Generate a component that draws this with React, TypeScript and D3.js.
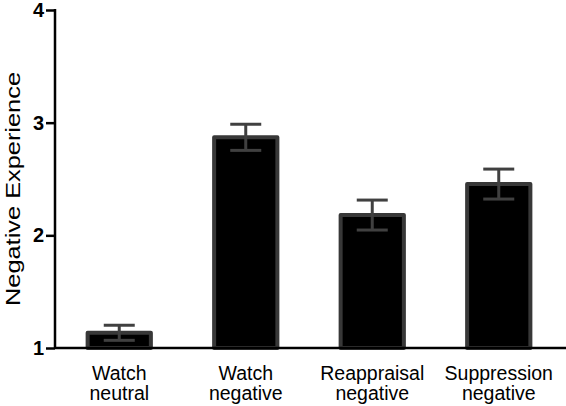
import { useEffect, useRef } from "react";
import * as d3 from "d3";

const categories = ["Watch\nneutral", "Watch\nnegative", "Reappraisal\nnegative", "Suppression\nnegative"];
const means = [1.135, 2.87, 2.18, 2.455];
const errors = [0.067, 0.116, 0.133, 0.133];
const yTicks = [1, 2, 3, 4];
const yLabel = "Negative Experience";

const NegativeExperienceChart = () => {
  const svgRef = useRef<SVGSVGElement>(null);

  useEffect(() => {
    const svg = d3.select(svgRef.current);
    svg.selectAll("*").remove(); // start clean

    const width = 566;
    const height = 406;
    const font = "'Liberation Sans', Arial, Helvetica, sans-serif";
    const axisX = 55;
    const axisColor = "#000";
    const barStroke = "#383838";

    svg.attr("width", width).attr("height", height);

    const x = d3
      .scaleBand()
      .domain(categories)
      .range([56, 562])
      .paddingInner(0.5)
      .paddingOuter(0.25);

    const y = d3.scaleLinear().domain([1, 4]).range([348, 10]);

    // Bars
    svg
      .append("g")
      .selectAll("rect")
      .data(categories)
      .join("rect")
      .attr("x", (d) => x(d)!)
      .attr("y", (d, i) => y(means[i]))
      .attr("width", x.bandwidth())
      .attr("height", (d, i) => y(1) - y(means[i]))
      .style("fill", "#000")
      .style("stroke", barStroke)
      .style("stroke-width", 4)
      .style("stroke-linejoin", "round");

    // Error bars
    const capHalf = 15.5;
    const err = svg.append("g").style("stroke", "#404040").style("stroke-width", 3).style("fill", "none");
    categories.forEach((c, i) => {
      const cx = x(c)! + x.bandwidth() / 2;
      const hi = y(means[i] + errors[i]);
      const lo = y(means[i] - errors[i]);
      err.append("line").attr("x1", cx).attr("x2", cx).attr("y1", hi).attr("y2", lo);
      err.append("line").attr("x1", cx - capHalf).attr("x2", cx + capHalf).attr("y1", hi).attr("y2", hi);
      err.append("line").attr("x1", cx - capHalf).attr("x2", cx + capHalf).attr("y1", lo).attr("y2", lo);
    });

    // X axis line across the full width
    svg
      .append("line")
      .attr("x1", axisX)
      .attr("x2", width)
      .attr("y1", y(1))
      .attr("y2", y(1))
      .style("stroke", axisColor)
      .style("stroke-width", 2.5);

    // Y axis
    const yAxis = d3.axisLeft(y).tickValues(yTicks).tickFormat(d3.format("d")).tickSize(9).tickPadding(2);
    const yg = svg.append("g").attr("transform", `translate(${axisX}, 0)`).call(yAxis);
    yg.select(".domain").remove();
    yg.selectAll(".tick line").style("stroke", axisColor).style("stroke-width", 2.5);
    yg.selectAll(".tick text")
      .style("font-family", font)
      .style("font-size", "20px")
      .style("font-weight", "bold")
      .style("fill", "#000");
    svg
      .append("line")
      .attr("x1", axisX)
      .attr("x2", axisX)
      .attr("y1", y(4) - 1)
      .attr("y2", y(1) + 1)
      .style("stroke", axisColor)
      .style("stroke-width", 2.5);

    // Category labels
    const labels = svg
      .append("g")
      .style("font-family", font)
      .style("font-size", "19.5px")
      .style("fill", "#000")
      .attr("text-anchor", "middle");
    categories.forEach((c) => {
      const cx = x(c)! + x.bandwidth() / 2;
      c.split("\n").forEach((line, j) => {
        labels.append("text").attr("x", cx).attr("y", 380 + j * 20).text(line);
      });
    });

    // Y axis title
    svg
      .append("text")
      .attr("transform", "translate(20, 189) rotate(-90)")
      .attr("text-anchor", "middle")
      .attr("textLength", 234)
      .attr("lengthAdjust", "spacingAndGlyphs")
      .style("font-family", font)
      .style("font-size", "21px")
      .style("fill", "#000")
      .text(yLabel);
  }, []);

  return <svg ref={svgRef} style={{ position: "absolute", left: 0, top: 0, background: "#fff" }} />;
};

export default function App() {
  return <NegativeExperienceChart />;
}
